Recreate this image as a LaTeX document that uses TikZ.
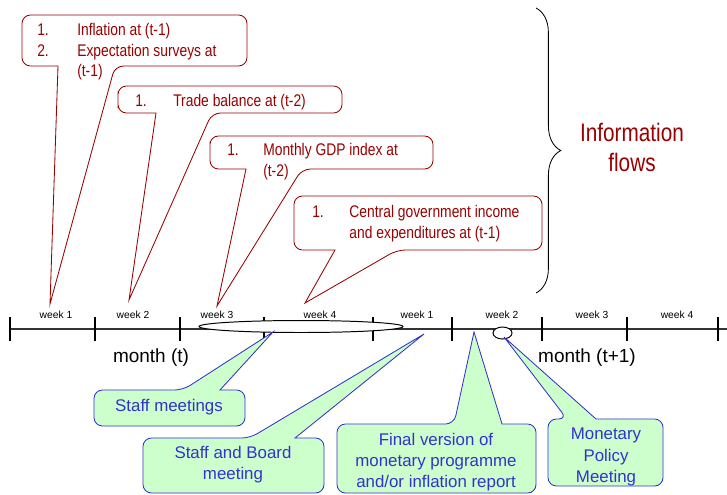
\documentclass[tikz,border=0pt]{standalone}
\usepackage{fontspec}
\setmainfont{Liberation Sans}
\newfontfamily\narrowsans[FakeStretch=0.82]{Liberation Sans}
\usetikzlibrary{decorations.pathreplacing}

\definecolor{flowred}{RGB}{153,0,0}
\definecolor{meetblue}{RGB}{51,51,204}
\definecolor{meetgreen}{RGB}{204,255,204}

\tikzset{
  redbox/.style={draw=flowred, fill=white, line width=0.6pt, rounded corners=6pt},
  greenbox/.style={draw=meetblue, fill=meetgreen, line width=0.6pt, rounded corners=6pt},
  redtxt/.style={text=flowred, inner sep=0pt, anchor=west, font=\narrowsans\fontsize{12}{14.5}\selectfont},
  bluetxt/.style={text=meetblue, inner sep=0pt, align=center, font=\fontsize{12}{15}\selectfont},
  weektxt/.style={inner sep=0pt, font=\fontsize{7.3}{9}\selectfont},
  monthtxt/.style={inner sep=0pt, font=\fontsize{13.5}{16}\selectfont}
}

\begin{document}
\begin{tikzpicture}[x=0.025cm, y=-0.025cm]
\useasboundingbox (0,0) rectangle (727,494);

% where the pointers end
\coordinate (tipA) at (50,304);
\coordinate (tipB) at (129,300);
\coordinate (tipC) at (217,306);
\coordinate (tipD) at (305,303);
\coordinate (tipE) at (273,332);
\coordinate (tipF) at (424,334);
\coordinate (tipG) at (474,332);
\coordinate (tipH) at (504,337);

% information flows (top)
\draw[redbox] (22,40) -- (22,15) -- (247,15) -- (247,66) -- (115,66) [sharp corners] -- (tipA) -- (58,66) [rounded corners=6pt] -- (22,66) -- cycle;
\node[redtxt] (inf) at (37,52) {\begin{tabular}{@{}p{1cm}@{}l@{}}1. & Inflation at (t-1)\\ 2. & Expectation surveys at\\ & (t-1)\end{tabular}};

\draw[redbox] (118,100) -- (118,86) -- (342,86) -- (342,113) -- (212,113) [sharp corners] -- (tipB) -- (156,113) [rounded corners=6pt] -- (118,113) -- cycle;
\node[redtxt] (trade) at (135,102) {\begin{tabular}{@{}p{0.95cm}@{}l@{}}1. & Trade balance at (t-2)\end{tabular}};

\draw[redbox] (210,150) -- (210,136) -- (433,136) -- (433,169) -- (302,169) [sharp corners] -- (tipC) -- (246,169) [rounded corners=6pt] -- (210,169) -- cycle;
\node[redtxt] (gdp) at (227,162) {\begin{tabular}{@{}p{0.9cm}@{}l@{}}1. & Monthly GDP index at\\ & (t-2)\end{tabular}};

\draw[redbox] (294,220) -- (294,196) -- (542,196) -- (542,250) -- (397,250) [sharp corners] -- (tipD) -- (335,250) [rounded corners=6pt] -- (294,250) -- cycle;
\node[redtxt] (gov) at (312,224) {\begin{tabular}{@{}p{0.93cm}@{}l@{}}1. & Central government income\\ & and expenditures at (t-1)\end{tabular}};

\draw[decorate, decoration={brace, amplitude=0.62cm}, line width=0.6pt] (536,8) -- (536,293);
\node[text=flowred, align=center, inner sep=0pt, font=\narrowsans\fontsize{18}{21.3}\selectfont] (flows) at (632,147) {Information\\flows};

% time line
\draw[black!80, line width=0.8pt] (10,329) -- (727,329);
\foreach \x in {10,95,180,264,373,452,542,627,718}
  \draw[line width=0.8pt] (\x,317) -- (\x,341);
\foreach \x/\w in {56/1,133/2,217/3,320/4,417/1,502/2,592/3,677/4}
  \node[weektxt] (wk\x) at (\x,315) {week \w};
\node[monthtxt] (mt) at (151,358) {month (t)};
\node[monthtxt] (mt1) at (587,358) {month (t+1)};

\draw[fill=white, line width=0.7pt] (301,326.5) ellipse (102 and 6);
\draw[fill=white, line width=0.7pt] (502.5,333) ellipse (9.5 and 6);

% meetings (bottom)
\draw[greenbox] (94,408) -- (94,390) -- (183,390) [sharp corners] -- (tipE) -- (220,390) [rounded corners=6pt] -- (245,390) -- (245,426) -- (94,426) -- cycle;
\node[bluetxt] (staff) at (169,407) {Staff meetings};

\draw[greenbox] (143,465) -- (143,438) -- (250,438) [sharp corners] -- (tipF) -- (295,438) [rounded corners=6pt] -- (324,438) -- (324,493) -- (143,493) -- cycle;
\node[bluetxt] (board) at (233,465) {Staff and Board\\meeting};

\draw[greenbox] (337,460) -- (337,424) -- (454,424) [sharp corners] -- (tipG) -- (502,424) [rounded corners=6pt] -- (536,424) -- (536,493) -- (337,493) -- cycle;
\node[bluetxt] (final) at (436,462) {Final version of\\monetary programme\\and/or inflation report};

\draw[greenbox] (548,450) -- (548,419) -- (567,419) [sharp corners] -- (tipH) -- (596,419) [rounded corners=6pt] -- (663,419) -- (663,486) -- (548,486) -- cycle;
\node[bluetxt] (mpm) at (606,457) {Monetary\\Policy\\Meeting};

\end{tikzpicture}
\end{document}
